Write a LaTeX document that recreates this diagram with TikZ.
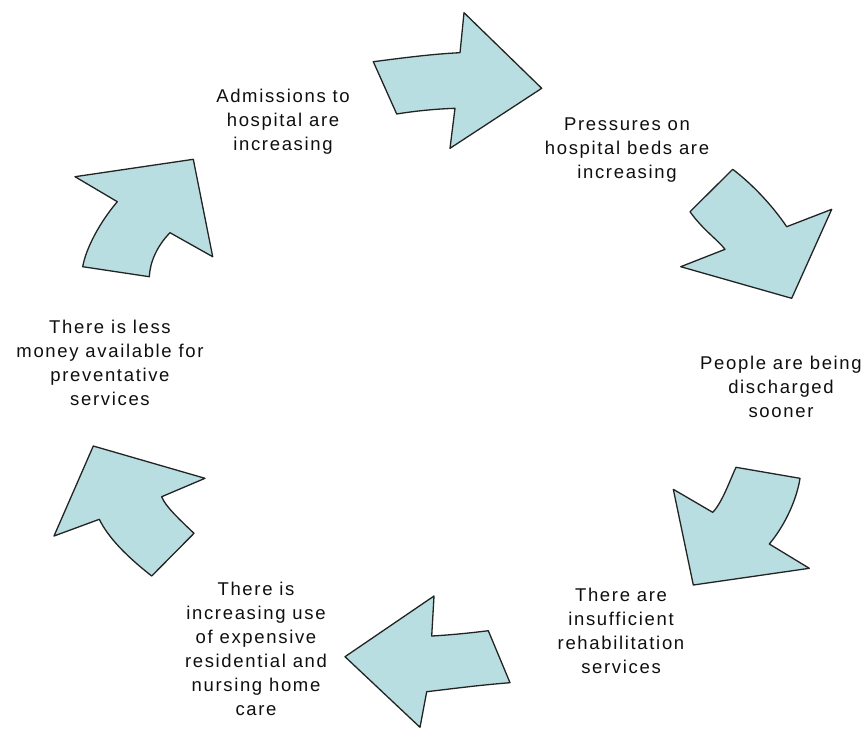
\documentclass[tikz,border=0pt]{standalone}
\usepackage{fontspec}
\setmainfont[LetterSpace=9]{Liberation Sans}
\begin{document}
\begin{tikzpicture}[x=1pt,y=-1pt,
  cyclearrow/.style={fill={rgb,255:red,184;green,222;blue,225}, draw={rgb,255:red,35;green,35;blue,35}, line width=1.3pt, line join=round},
  label/.style={align=center, text={rgb,255:red,15;green,15;blue,15}, font=\fontsize{18.5}{24}\selectfont, inner sep=0pt}]
\useasboundingbox[fill=white] (0,0) rectangle (866,729);

% curved block arrows, clockwise
\path[cyclearrow] (373.3,61.7) .. controls (402,58) and (432,54) .. (460,52.7) -- (464,12.7) -- (541.7,88.3) -- (450,148.3) -- (455,108.3) .. controls (435,109) and (415,111) .. (396.7,114) -- cycle;
\path[cyclearrow] (732.7,169.3) .. controls (752,184) and (772,205) .. (786.7,226.7) -- (831.7,209.3) -- (791.7,298.3) -- (680.7,266.7) -- (725,249.3) .. controls (718,240) and (703,230) .. (690,211.7) -- cycle;
\path[cyclearrow] (736,467.3) -- (800,478.3) .. controls (797,498) and (786,524) .. (769.3,544) -- (809.3,568.3) -- (693.3,585) -- (673.3,489.3) -- (712.7,512.3) .. controls (722,503) and (730,480) .. (736,467.3) -- cycle;
\path[cyclearrow] (434,596) -- (431.7,636) .. controls (450,635) and (470,633) .. (488.3,630.7) -- (510,682.7) .. controls (480,685) and (450,689) .. (426.7,691.7) -- (420,727.3) -- (345,656.7) -- cycle;
\path[cyclearrow] (93.3,446) -- (205,478.3) -- (161.7,496.7) .. controls (165,506) and (180,520) .. (194,533.3) -- (151.7,576) .. controls (125,555) and (108,537) .. (99.3,519.3) -- (54,536) -- cycle;
\path[cyclearrow] (75,176.7) -- (193.3,159.3) -- (212.7,256.7) -- (170,232.7) .. controls (157,246) and (150,262) .. (149.3,276.7) -- (82.7,266.7) .. controls (86,248) and (100,222) .. (117.3,201.7) -- cycle;

% stages of the cycle
\node[label] (admit) at (283,122) {Admissions to\\hospital are\\increasing};
\node[label] (beds) at (627,150) {Pressures on\\hospital beds are\\increasing};
\node[label] (discharge) at (781,387) {People are being\\discharged\\sooner};
\node[label] (rehab) at (621,631) {There are\\insufficient\\rehabilitation\\services};
\node[label] (care) at (256,649) {There is\\increasing use\\of expensive\\residential and\\nursing home\\care};
\node[label] (money) at (110,363) {There is less\\money available for\\preventative\\services};
\end{tikzpicture}
\end{document}
